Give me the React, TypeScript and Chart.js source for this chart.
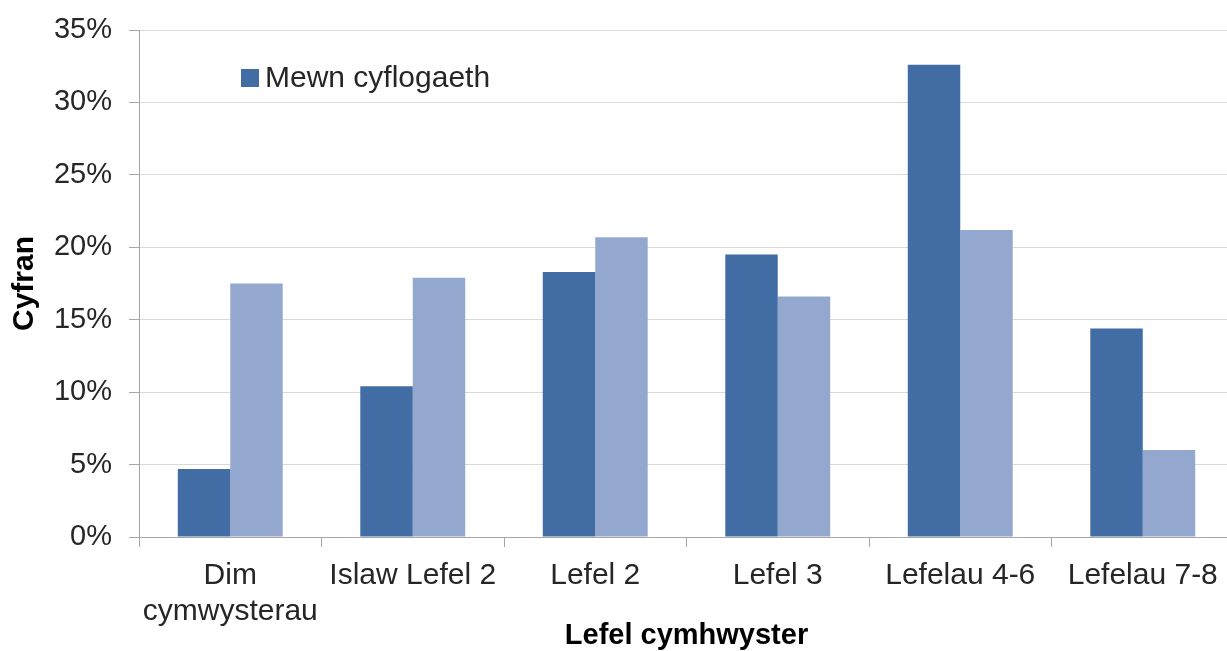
import React, { useEffect, useRef } from "react";
import { Chart, registerables } from "chart.js";

Chart.register(...registerables);

const categories: (string | string[])[] = [
  ["Dim", "cymwysterau"],
  "Islaw Lefel 2",
  "Lefel 2",
  "Lefel 3",
  "Lefelau 4-6",
  "Lefelau 7-8",
];
const employedLabel = "Mewn cyflogaeth";
const employedValues = [4.7, 10.4, 18.3, 19.5, 32.6, 14.4];
const otherLabel = "Ddim mewn cyflogaeth";
const otherValues = [17.5, 17.9, 20.7, 16.6, 21.2, 6.0];
const yTicks = [0, 5, 10, 15, 20, 25, 30, 35];
const yTitle = "Cyfran";
const xTitle = "Lefel cymhwyster";

const FONT = "'Liberation Sans', Arial, Helvetica, sans-serif";

const legendPlugin = {
  id: "insideLegend",
  afterDraw(chart: any) {
    const ctx = chart.ctx;
    const ds = chart.data.datasets[0];
    ctx.save();
    ctx.fillStyle = ds.backgroundColor;
    ctx.fillRect(241, 69, 18, 18);
    ctx.fillStyle = "#262626";
    ctx.font = `30px ${FONT}`;
    ctx.textBaseline = "middle";
    ctx.textAlign = "left";
    ctx.fillText(ds.label, 265, 79);
    ctx.restore();
  },
};

export default function App() {
  const ref = useRef<HTMLCanvasElement | null>(null);

  useEffect(() => {
    document.body.style.margin = "0";
    document.body.style.overflow = "hidden";
    const canvas = ref.current;
    if (!canvas) return;
    const chart = new Chart(canvas, {
      type: "bar",
      data: {
        labels: categories,
        datasets: [
          {
            label: employedLabel,
            data: employedValues,
            backgroundColor: "#416DA4",
            barPercentage: 1,
            categoryPercentage: 0.575,
          },
          {
            label: otherLabel,
            data: otherValues,
            backgroundColor: "#94A8CF",
            barPercentage: 1,
            categoryPercentage: 0.575,
          },
        ],
      },
      plugins: [legendPlugin],
      options: {
        responsive: false,
        animation: false,
        maintainAspectRatio: false,
        layout: { padding: { top: 30, left: 0, right: 0, bottom: 0 } },
        plugins: {
          legend: { display: false },
          tooltip: { enabled: false },
        },
        scales: {
          x: {
            afterFit: (scale: any) => {
              scale.height = 114;
              scale.paddingLeft = 0;
              scale.paddingRight = 0;
            },
            grid: {
              display: true,
              drawOnChartArea: false,
              drawTicks: true,
              tickLength: 10,
              offset: true,
              color: "#A6A6A6",
              tickColor: "#A6A6A6",
            },
            border: { display: true, color: "#A6A6A6", width: 1 },
            ticks: {
              color: "#262626",
              font: { family: FONT, size: 30, lineHeight: 1.2 },
              padding: 11,
              maxRotation: 0,
              autoSkip: false,
            },
            title: {
              display: true,
              text: xTitle,
              color: "#000000",
              font: { family: FONT, size: 29, weight: "bold", lineHeight: 1.2 },
              padding: { top: 0, bottom: -2 },
            },
          },
          y: {
            min: 0,
            max: 35,
            afterFit: (scale: any) => {
              scale.width = 139;
              scale.paddingTop = 0;
              scale.paddingBottom = 0;
            },
            afterBuildTicks: (scale: any) => {
              scale.ticks = yTicks.map((v) => ({ value: v }));
            },
            grid: {
              color: "#D9D9D9",
              tickColor: "#A6A6A6",
              tickLength: 10,
              drawTicks: true,
            },
            border: { display: true, color: "#A6A6A6", width: 1 },
            ticks: {
              color: "#262626",
              font: { family: FONT, size: 29 },
              padding: 17,
              callback: (v: any) => `${v}%`,
            },
            title: {
              display: true,
              text: yTitle,
              color: "#000000",
              font: { family: FONT, size: 30, weight: "bold", lineHeight: 1.2 },
              padding: { top: 7, bottom: 0 },
            },
          },
        },
      },
    });
    return () => chart.destroy();
  }, []);

  return (
    <div
      style={{
        position: "fixed",
        left: 0,
        top: 0,
        width: 1227,
        height: 651,
        overflow: "hidden",
        background: "#ffffff",
      }}
    >
      <canvas ref={ref} width={1234} height={651} style={{ width: 1234, height: 651, display: "block" }} />
    </div>
  );
}
